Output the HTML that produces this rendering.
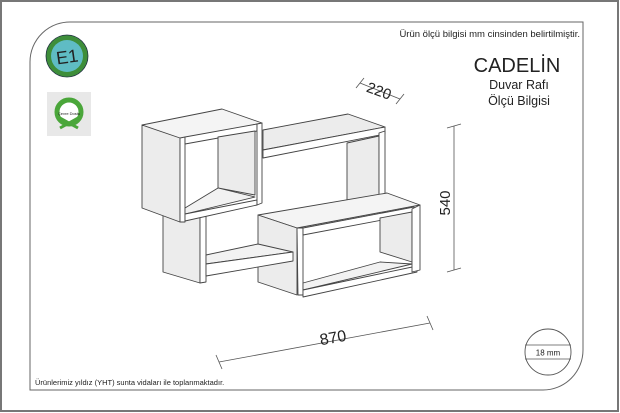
<!DOCTYPE html>
<html><head><meta charset="utf-8"><style>
html,body{margin:0;padding:0;background:#fff}
svg{display:block}
text{font-family:"Liberation Sans",sans-serif;fill:#222}
</style></head><body>
<svg width="620" height="413" viewBox="0 0 620 413" xmlns="http://www.w3.org/2000/svg">
<rect x="1" y="1" width="617" height="410" fill="#fff" stroke="#777" stroke-width="2"/>
<path d="M72 22 H583 V350 A40 40 0 0 1 543 390 H30 V62 A40 40 0 0 1 72 22 Z" fill="none" stroke="#666" stroke-width="1"/>
<text x="580" y="37" font-size="9.5" text-anchor="end">Ürün ölçü bilgisi mm cinsinden belirtilmiştir.</text>
<text x="517" y="72" font-size="20" text-anchor="middle">CADELİN</text>
<text x="519" y="89" font-size="12.5" text-anchor="middle">Duvar Rafı</text>
<text x="519" y="105" font-size="12.5" text-anchor="middle">Ölçü Bilgisi</text>
<text x="35" y="385" font-size="7.5">Ürünlerimiz yıldız (YHT) sunta vidaları ile toplanmaktadır.</text>
<circle cx="67" cy="56" r="21" fill="#3e8e3a" stroke="#234" stroke-width="0.8"/>
<circle cx="67" cy="56" r="16" fill="#5fbcc4"/>
<text x="67" y="63" font-size="18" text-anchor="middle" transform="rotate(-8 67 56)">E1</text>
<rect x="47" y="92" width="44" height="44" fill="#e8e8e8"/>
<circle cx="69" cy="112" r="14" fill="#fff"/>
<circle cx="69" cy="112" r="12" fill="none" stroke="#4aa63a" stroke-width="5"/>
<path d="M60 128 L78 118 M78 128 L60 118" stroke="#4aa63a" stroke-width="3"/>
<text x="69" y="115" font-size="4" text-anchor="middle">Çevre Dostu</text>
<g stroke="#444" stroke-width="0.9" stroke-linejoin="round">
<polygon points="163,215 200,215 200,283 163,272" fill="#ececec"/>
<polygon points="200,215 206,215 206,282 200,283" fill="#fff"/>
<polygon points="263,130 348,114 385,127 263,150" fill="#ececec"/>
<polygon points="263,150 385,127 385,134 263,158" fill="#fff"/>
<polygon points="347,143 379,136 379,212 347,200" fill="#ececec"/>
<polygon points="379,133 385,131 385,212 379,212" fill="#fff"/>
<polygon points="258,215 387,193 420,205 297,228" fill="#f4f4f4"/>
<polygon points="258,215 297,228 297,295 258,282" fill="#ececec"/>
<polygon points="297,228 303,228 303,295 298,295" fill="#fff"/>
<polygon points="303,228 414,207 414,214 303,235" fill="#fff"/>
<polygon points="380,218 412,212 412,262 380,252" fill="#ececec"/>
<polygon points="303,283 380,262 412,264 303,290" fill="#f2f2f2"/>
<polygon points="303,290 417,266 417,272 303,297" fill="#fff"/>
<polygon points="412,209 420,205 420,270 412,272" fill="#fff"/>
<polygon points="206,255 258,244 293,252 206,264" fill="#f2f2f2"/>
<polygon points="206,264 293,252 293,261 206,276" fill="#fff"/>
<polygon points="142,125 222,109 262,123 182,140" fill="#f4f4f4"/>
<polygon points="142,125 180,138 180,222 142,208" fill="#ececec"/>
<polygon points="180,138 185,137 185,222 180,222" fill="#fff"/>
<polygon points="185,137 257,124 257,131 185,144" fill="#fff"/>
<polygon points="218,137 255,131 255,195 218,188" fill="#ececec"/>
<polygon points="185,208 218,188 255,197 185,214" fill="#f2f2f2"/>
<polygon points="185,214 257,200 257,205 185,221" fill="#fff"/>
<polygon points="257,124 262,123 262,203 257,205" fill="#fff"/>
</g>
<g stroke="#555" stroke-width="0.8" fill="none">
<line x1="360" y1="83" x2="400" y2="99"/>
<line x1="356" y1="88" x2="364" y2="78"/><line x1="396" y1="104" x2="404" y2="94"/>
<line x1="454" y1="126" x2="454" y2="270"/>
<line x1="447" y1="128" x2="461" y2="124"/><line x1="447" y1="272" x2="461" y2="268"/>
<line x1="219" y1="362" x2="430" y2="323"/>
<line x1="216" y1="355" x2="222" y2="369"/><line x1="427" y1="316" x2="433" y2="330"/>
</g>
<text x="379" y="96" font-size="15" text-anchor="middle" transform="rotate(20 379 91)">220</text>
<text x="445" y="208" font-size="15" text-anchor="middle" transform="rotate(-90 445 203)">540</text>
<text x="333" y="343" font-size="16" text-anchor="middle" transform="rotate(-10 333 338)">870</text>
<circle cx="548" cy="352" r="23" fill="#fff" stroke="#555" stroke-width="0.9"/>
<line x1="525" y1="345" x2="571" y2="345" stroke="#555" stroke-width="0.8"/>
<line x1="525" y1="359" x2="571" y2="359" stroke="#555" stroke-width="0.8"/>
<text x="548" y="355.5" font-size="8" text-anchor="middle">18 mm</text>
</svg>
</body></html>
